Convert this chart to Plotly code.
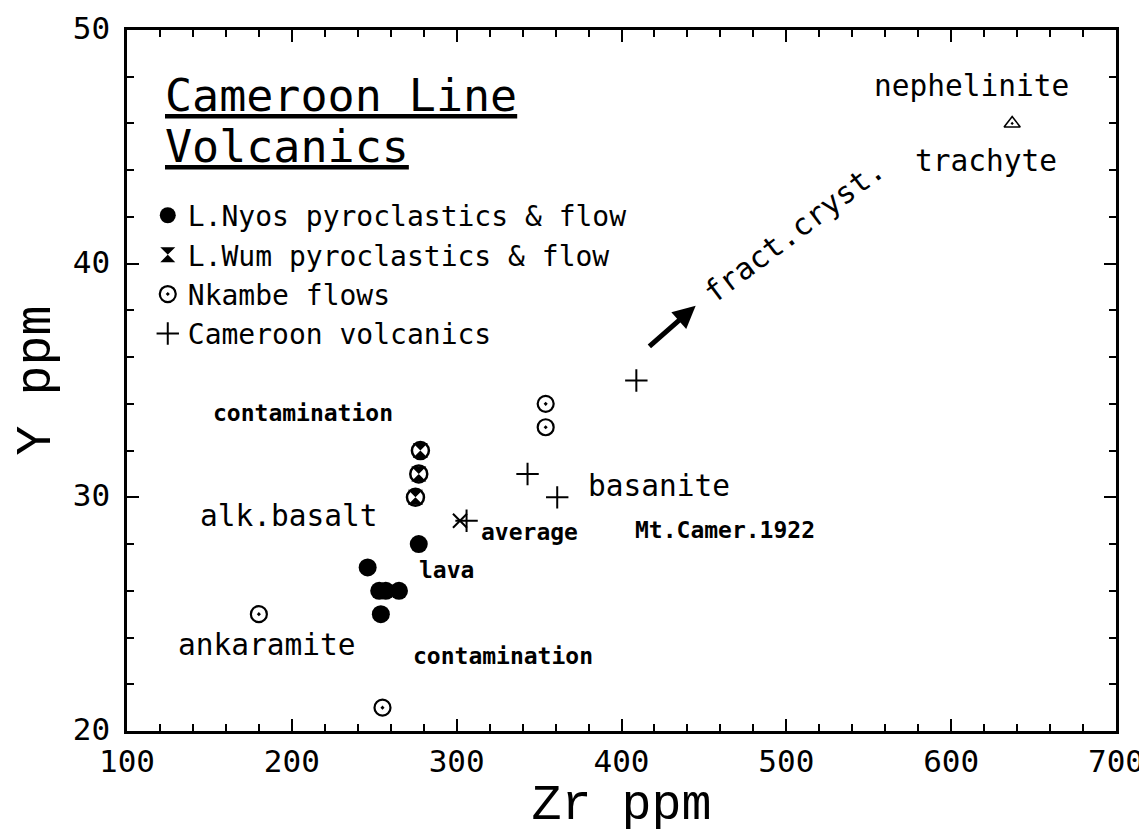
import plotly.graph_objects as go

# ---- data ----
nyos_zr = [246, 277, 253, 257, 265, 254]
nyos_y = [27, 28, 26, 26, 26, 25]

wum_zr = [278, 277, 275]
wum_y = [32, 31, 30]

nkambe_zr = [354, 354, 180, 255]
nkambe_y = [34, 33, 25, 21]

cam_zr = [409, 343, 361, 306]
cam_y = [35, 31, 30, 29]

avg_zr = [302]
avg_y = [29]

neph_zr = [637]
neph_y = [46]

x_ticks = [100, 200, 300, 400, 500, 600, 700]
y_ticks = [20, 30, 40, 50]

# text labels: (text, x, y, size, bold)
labels = [
    ("contamination", 207, 33.6, 23, True),
    ("alk.basalt", 198, 29.2, 29.5, False),
    ("average", 344, 28.5, 23, True),
    ("lava", 294, 26.9, 23, True),
    ("ankaramite", 185, 23.7, 29.5, False),
    ("contamination", 328, 23.2, 23, True),
    ("basanite", 423, 30.5, 29.5, False),
    ("Mt.Camer.1922", 463, 28.6, 23, True),
    ("nephelinite", 612.6, 47.6, 29.5, False),
    ("trachyte", 621, 44.4, 29.5, False),
]
title_lines = [("Cameroon Line", 121.8, 47.2), ("Volcanics", 121.8, 45.0)]
arrow_tail = (416, 36.4)
arrow_head = (445, 38.2)
fc_label = ("fract.cryst.", 505, 41.4, -37)

MONO = "DejaVu Sans Mono"

fig = go.Figure()

fig.add_trace(go.Scatter(
    x=nyos_zr, y=nyos_y, mode="markers", name="L.Nyos pyroclastics & flow",
    marker=dict(symbol="circle", size=18, color="black", line=dict(width=0)),
))
fig.add_trace(go.Scatter(
    x=wum_zr, y=wum_y, mode="markers", name="L.Wum pyroclastics & flow",
    marker=dict(symbol="hourglass", size=15, color="black", line=dict(width=0)),
))
fig.add_trace(go.Scatter(
    x=wum_zr, y=wum_y, mode="markers", showlegend=False,
    marker=dict(symbol="circle-open", size=17, color="black", line=dict(width=2.5)),
))
fig.add_trace(go.Scatter(
    x=nkambe_zr, y=nkambe_y, mode="markers", name="Nkambe flows",
    marker=dict(symbol="circle-open-dot", size=16, color="black", line=dict(width=2.2)),
))
fig.add_trace(go.Scatter(
    x=cam_zr, y=cam_y, mode="markers", name="Cameroon volcanics",
    marker=dict(symbol="cross-thin-open", size=16, color="black", line=dict(width=2)),
))
fig.add_trace(go.Scatter(
    x=avg_zr, y=avg_y, mode="markers", showlegend=False,
    marker=dict(symbol="x-thin-open", size=14, color="black", line=dict(width=2)),
))
fig.add_trace(go.Scatter(
    x=neph_zr, y=neph_y, mode="markers", showlegend=False,
    marker=dict(symbol="triangle-up-open-dot", size=14, color="black", line=dict(width=1.6)),
))

annotations = []
for text, x, y, size, bold in labels:
    annotations.append(dict(
        x=x, y=y, xref="x", yref="y", text=text, showarrow=False,
        xanchor="center", yanchor="middle",
        font=dict(family=MONO, size=size, color="black", weight="bold" if bold else "normal"),
    ))
for text, x, y in title_lines:
    annotations.append(dict(
        x=x, y=y, xref="x", yref="y", text=text, showarrow=False,
        xanchor="left", yanchor="middle",
        font=dict(family=MONO, size=45, color="black", lineposition="under"),
    ))
annotations.append(dict(
    x=fc_label[1], y=fc_label[2], xref="x", yref="y", text=fc_label[0],
    showarrow=False, textangle=fc_label[3], xanchor="center", yanchor="middle",
    font=dict(family=MONO, size=30, color="black"),
))
annotations.append(dict(
    x=arrow_head[0], y=arrow_head[1], ax=arrow_tail[0], ay=arrow_tail[1],
    xref="x", yref="y", axref="x", ayref="y", text="", showarrow=True,
    arrowhead=2, arrowsize=0.9, arrowwidth=5, arrowcolor="black",
))

axis_common = dict(
    showline=True, linecolor="black", linewidth=2.5, mirror="allticks",
    ticks="inside", ticklen=12, tickwidth=2, tickcolor="black",
    showgrid=False, zeroline=False, automargin=False,
    ticklabeloverflow="allow",
    tickfont=dict(family=MONO, size=31, color="black"),
)

fig.update_xaxes(
    range=[100, 700], tickvals=x_ticks, ticktext=[str(v) for v in x_ticks],
    minor=dict(dtick=20, ticks="inside", ticklen=7, tickwidth=2, tickcolor="black", showgrid=False),
    title=dict(text="Zr ppm", font=dict(family="Liberation Mono", size=50, color="black"), standoff=28),
    ticklabelstandoff=1,
    **axis_common,
)
fig.update_yaxes(
    range=[20, 50], tickvals=y_ticks, ticktext=[str(v) for v in y_ticks],
    minor=dict(dtick=2, ticks="inside", ticklen=7, tickwidth=2, tickcolor="black", showgrid=False),
    title=dict(text="Y ppm", font=dict(family="Liberation Mono", size=50, color="black"), standoff=11),
    ticklabelstandoff=8, ticklabelshift=-2,
    **axis_common,
)

# the page body adds an 8px offset, so the figure is sized to fit the window
fig.update_layout(
    width=1139, height=826,
    margin=dict(l=119, r=31, t=22, b=103),
    paper_bgcolor="white", plot_bgcolor="white",
    showlegend=True,
    legend=dict(
        x=0.021, y=0.771, xanchor="left", yanchor="top",
        bgcolor="rgba(0,0,0,0)", borderwidth=0,
        font=dict(family=MONO, size=28, color="black"),
        itemsizing="trace",
    ),
    annotations=annotations,
)

fig.write_html("out.html")
